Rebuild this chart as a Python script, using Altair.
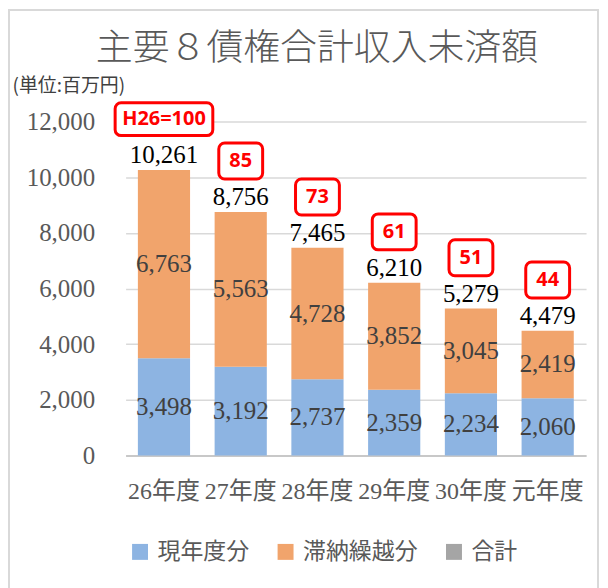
import altair as alt
import pandas as pd

years = ["26年度", "27年度", "28年度", "29年度", "30年度", "元年度"]
current = [3498, 3192, 2737, 2359, 2234, 2060]
arrears = [6763, 5563, 4728, 3852, 3045, 2419]
totals = [10261, 8756, 7465, 6210, 5279, 4479]
index_labels = ["H26=100", "85", "73", "61", "51", "44"]
series = ["現年度分", "滞納繰越分", "合計"]
colors = ["#8DB4E2", "#F1A46C", "#A5A5A5"]

rows = []
for y, c, a in zip(years, current, arrears):
    rows.append({"year": y, "series": series[0], "value": c, "lo": 0, "hi": c})
    rows.append({"year": y, "series": series[1], "value": a, "lo": c, "hi": c + a})
seg = pd.DataFrame(rows)
seg["mid"] = (seg["lo"] + seg["hi"]) / 2
tot = pd.DataFrame({"year": years, "total": totals, "idx": index_labels})

NUMFONT = "Liberation Serif"
CATFONT = "Liberation Serif, Noto Sans CJK JP"
JPFONT = "Noto Sans CJK JP"

xenc = alt.X(
    "year:N", sort=years,
    scale=alt.Scale(paddingInner=0.32, paddingOuter=0.16),
    axis=alt.Axis(title=None, labelAngle=0, labelFont=CATFONT, labelFontSize=24,
                  labelColor="#595959", labelPadding=24, ticks=False, tickSize=0,
                  domainColor="#BFBFBF", domainWidth=1.5, grid=False),
)
yscale = alt.Scale(domain=[0, 12000], nice=False)

bars = alt.Chart(seg).mark_bar().encode(
    x=xenc,
    y=alt.Y("lo:Q", scale=yscale,
            axis=alt.Axis(values=list(range(0, 12001, 2000)), format=",.0f",
                          labelFont=NUMFONT, labelFontSize=25, labelColor="#595959",
                          labelPadding=31, domain=False, ticks=False, tickSize=0,
                          gridColor="#D9D9D9", gridWidth=1.5,
                          title="(単位:百万円)", titleAngle=0, titleAlign="left",
                          titleBaseline="middle", titleX=-114, titleY=-36,
                          titleFont=JPFONT, titleFontSize=19, titleFontWeight="normal",
                          titleColor="#404040")),
    y2="hi:Q",
    color=alt.Color("series:N", scale=alt.Scale(domain=series, range=colors),
                    legend=alt.Legend(orient="none", legendX=3, legendY=420,
                                      direction="horizontal", title=None,
                                      symbolType="square", symbolSize=256,
                                      symbolStrokeWidth=0, labelFont=JPFONT,
                                      labelFontSize=23, labelColor="#595959",
                                      columnPadding=25, labelOffset=6)),
)

seg_text = alt.Chart(seg).mark_text(
    baseline="middle", font=NUMFONT, fontSize=25, color="#404040"
).encode(x=alt.X("year:N", sort=years), y=alt.Y("mid:Q"), text=alt.Text("value:Q", format=","))

tot_text = alt.Chart(tot).mark_text(
    baseline="middle", font=NUMFONT, fontSize=25, color="#000000", dy=-15
).encode(x=alt.X("year:N", sort=years), y=alt.Y("total:Q"), text=alt.Text("total:Q", format=","))

r = 0.122
hh = 0.337
wide_path = (f"M {-1+r},{-hh} H {1-r} A {r},{r} 0 0 1 1,{-hh+r} V {hh-r} "
             f"A {r},{r} 0 0 1 {1-r},{hh} H {-1+r} A {r},{r} 0 0 1 -1,{hh-r} "
             f"V {-hh+r} A {r},{r} 0 0 1 {-1+r},{-hh} Z")
r2 = 0.27
hh2 = 0.82
narrow_path = (f"M {-1+r2},{-hh2} H {1-r2} A {r2},{r2} 0 0 1 1,{-hh2+r2} V {hh2-r2} "
               f"A {r2},{r2} 0 0 1 {1-r2},{hh2} H {-1+r2} A {r2},{r2} 0 0 1 -1,{hh2-r2} "
               f"V {-hh2+r2} A {r2},{r2} 0 0 1 {-1+r2},{-hh2} Z")

box_wide = alt.Chart(tot).transform_filter(alt.datum.year == years[0]).mark_point(
    shape=wide_path, size=9604, filled=True, fill="white", stroke="#FF0000",
    strokeWidth=3, opacity=1, yOffset=-51
).encode(x=alt.X("year:N", sort=years), y=alt.Y("total:Q"))

box_narrow = alt.Chart(tot).transform_filter(alt.datum.year != years[0]).mark_point(
    shape=narrow_path, size=1936, filled=True, fill="white", stroke="#FF0000",
    strokeWidth=3, opacity=1, yOffset=-51
).encode(x=alt.X("year:N", sort=years), y=alt.Y("total:Q"))

box_text = alt.Chart(tot).mark_text(
    baseline="middle", font="Noto Sans", fontWeight="bold", fontSize=20,
    color="#FF0000", dy=-51
).encode(x=alt.X("year:N", sort=years), y=alt.Y("total:Q"), text="idx:N")

frame = alt.Chart(pd.DataFrame({"k": [0]})).mark_rect(
    fillOpacity=0, stroke="#D9D9D9", strokeWidth=2
).encode(x=alt.value(-117), x2=alt.value(474), y=alt.value(-112), y2=alt.value(470))

chart = alt.layer(frame, bars, seg_text, tot_text, box_wide, box_narrow, box_text).properties(
    width=462, height=335,
    title=alt.TitleParams("主要８債権合計収入未済額", fontSize=37, font=JPFONT,
                          fontWeight=300, color="#595959", anchor="middle",
                          dx=-39, dy=65, offset=6),
    autosize=alt.AutoSizeParams(type="none"),
    padding={"left": 118, "top": 113, "right": 14, "bottom": 132},
).configure_view(stroke=None)

chart.save("out.html", embed_options={"renderer": "svg", "actions": False})
